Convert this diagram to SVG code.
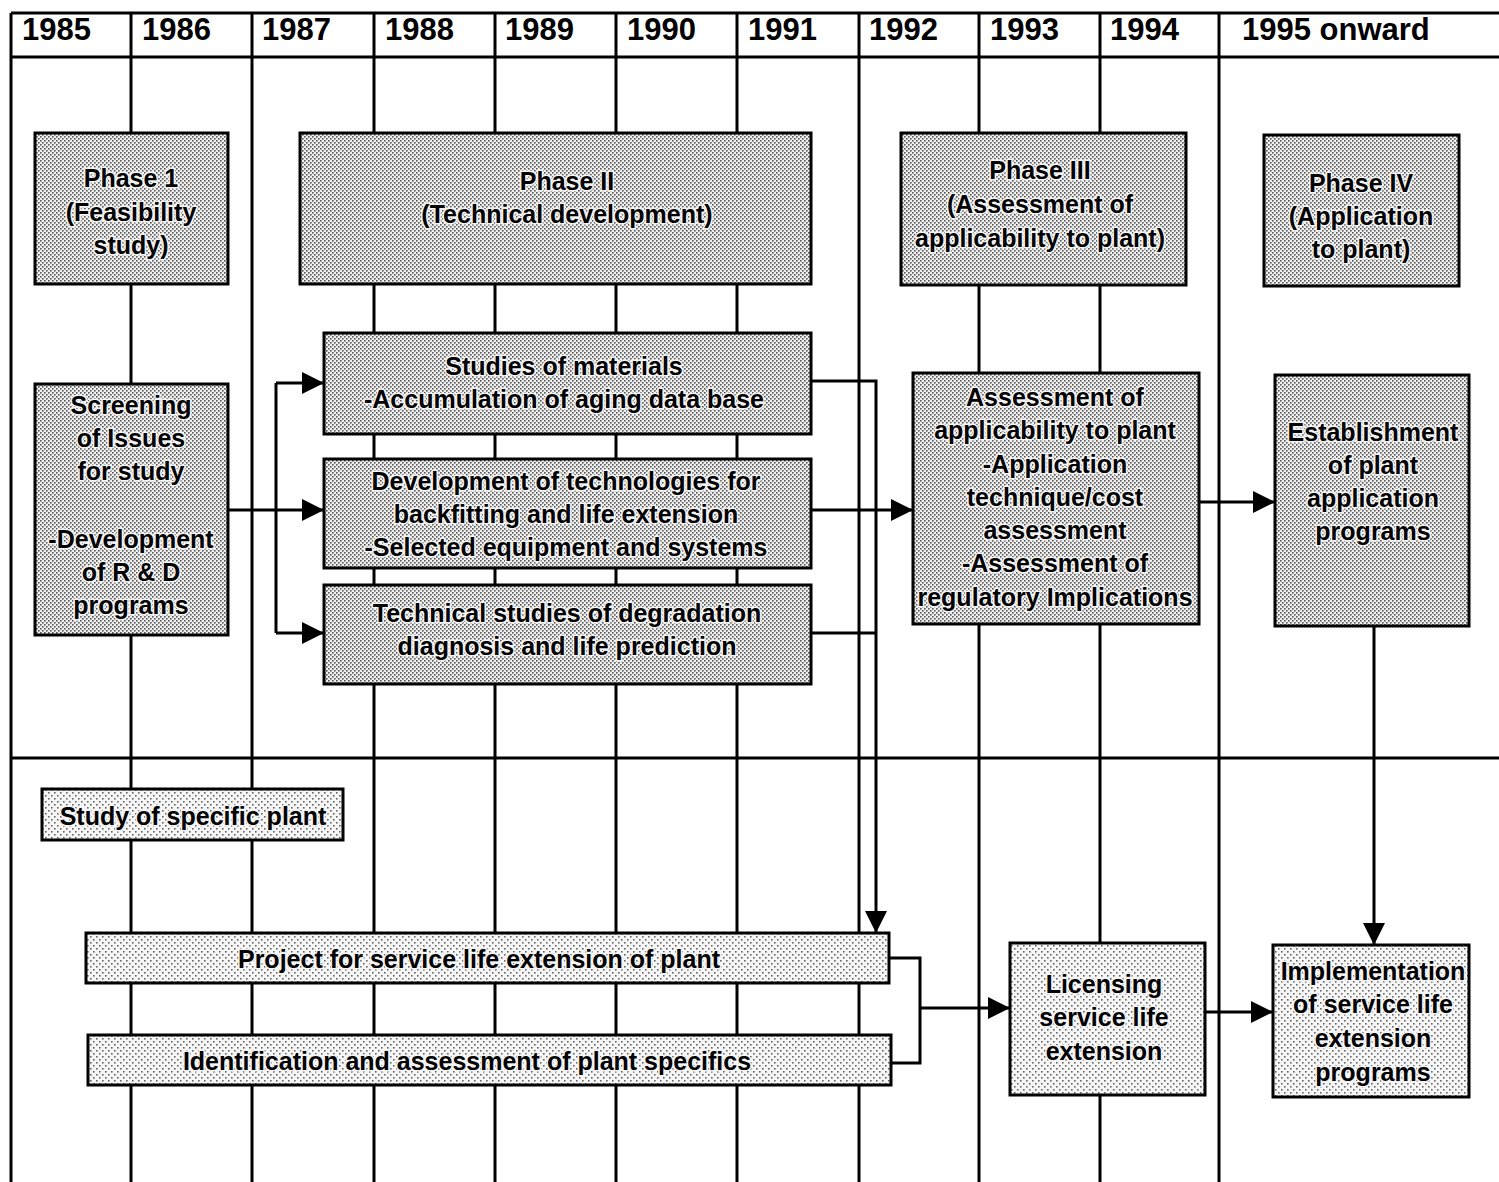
<svg xmlns="http://www.w3.org/2000/svg" width="1499" height="1182" viewBox="0 0 1499 1182">
<style>
.grid{stroke:#000;stroke-width:3;fill:none}
.box{fill:url(#dots);stroke:#000;stroke-width:3}
.light{fill:url(#dots2)}
.yr{font-family:"Liberation Sans",Arial,sans-serif;font-size:31px;font-weight:bold;fill:#000}
.t{font-family:"Liberation Sans",Arial,sans-serif;font-size:25px;font-weight:bold;fill:#000;text-anchor:middle;stroke:#f4f4f4;stroke-width:3;stroke-linejoin:round;paint-order:stroke}
.c{stroke:#000;stroke-width:3;fill:none}
.a{marker-end:url(#arr)}
</style>
<defs>
<pattern id="dots" width="4" height="4" patternUnits="userSpaceOnUse">
<rect width="4" height="4" fill="#f0f0f0"/>
<rect x="0" y="0" width="1.6" height="1.6" fill="#555"/>
<rect x="2" y="2" width="1.6" height="1.6" fill="#555"/>
</pattern>
<pattern id="dots2" width="6" height="6" patternUnits="userSpaceOnUse">
<rect width="6" height="6" fill="#f6f6f6"/>
<rect x="0" y="0" width="1.6" height="1.6" fill="#666"/>
<rect x="3" y="3" width="1.6" height="1.6" fill="#666"/>
</pattern>
<marker id="arr" markerUnits="userSpaceOnUse" markerWidth="24" markerHeight="24" refX="22" refY="11" orient="auto">
<path d="M0,0 L22,11 L0,22 Z" fill="#000"/>
</marker>
</defs>
<rect width="1499" height="1182" fill="#fff"/>
<g id="grid">
<line class="grid" x1="11" y1="13" x2="1499" y2="13"/>
<line class="grid" x1="11" y1="57" x2="1499" y2="57"/>
<line class="grid" x1="11" y1="758" x2="1499" y2="758"/>
<line class="grid" x1="11" y1="13" x2="11" y2="1182"/>
<line class="grid" x1="131" y1="13" x2="131" y2="1182"/>
<line class="grid" x1="252" y1="13" x2="252" y2="1182"/>
<line class="grid" x1="374" y1="13" x2="374" y2="1182"/>
<line class="grid" x1="495" y1="13" x2="495" y2="1182"/>
<line class="grid" x1="616" y1="13" x2="616" y2="1182"/>
<line class="grid" x1="737" y1="13" x2="737" y2="1182"/>
<line class="grid" x1="859" y1="13" x2="859" y2="1182"/>
<line class="grid" x1="979" y1="13" x2="979" y2="1182"/>
<line class="grid" x1="1100" y1="13" x2="1100" y2="1182"/>
<line class="grid" x1="1219" y1="13" x2="1219" y2="1182"/>
<text class="yr" x="22" y="40">1985</text>
<text class="yr" x="142" y="40">1986</text>
<text class="yr" x="262" y="40">1987</text>
<text class="yr" x="385" y="40">1988</text>
<text class="yr" x="505" y="40">1989</text>
<text class="yr" x="627" y="40">1990</text>
<text class="yr" x="748" y="40">1991</text>
<text class="yr" x="869" y="40">1992</text>
<text class="yr" x="990" y="40">1993</text>
<text class="yr" x="1110" y="40">1994</text>
<text class="yr" x="1242" y="40">1995 onward</text>
</g>
<g id="connectors">
<line class="c a" x1="228" y1="510" x2="324" y2="510"/>
<path class="c" d="M276,383 L276,633"/>
<line class="c a" x1="276" y1="383" x2="324" y2="383"/>
<line class="c a" x1="276" y1="633" x2="324" y2="633"/>
<path class="c a" d="M811,381 L876,381 L876,933"/>
<line class="c" x1="811" y1="633" x2="876" y2="633"/>
<line class="c a" x1="811" y1="510" x2="913" y2="510"/>
<line class="c a" x1="1199" y1="502" x2="1275" y2="502"/>
<line class="c a" x1="1374" y1="626" x2="1374" y2="945"/>
<path class="c" d="M889,958 L920,958 L920,1063 L891,1063"/>
<line class="c a" x1="920" y1="1008" x2="1010" y2="1008"/>
<line class="c a" x1="1205" y1="1012" x2="1273" y2="1012"/>
</g>
<g id="phase1">
<rect class="box" x="35" y="133" width="193" height="151"/>
<text class="t" x="131" y="187">Phase 1</text>
<text class="t" x="131" y="221">(Feasibility</text>
<text class="t" x="131" y="254">study)</text>
</g>
<g id="phase2">
<rect class="box" x="300" y="133" width="511" height="151"/>
<text class="t" x="567" y="190">Phase II</text>
<text class="t" x="567" y="223">(Technical development)</text>
</g>
<g id="phase3">
<rect class="box" x="901" y="133" width="285" height="152"/>
<text class="t" x="1040" y="179">Phase III</text>
<text class="t" x="1040" y="213">(Assessment of</text>
<text class="t" x="1040" y="247">applicability to plant)</text>
</g>
<g id="phase4">
<rect class="box" x="1264" y="135" width="195" height="151"/>
<text class="t" x="1361" y="192">Phase IV</text>
<text class="t" x="1361" y="225">(Application</text>
<text class="t" x="1361" y="258">to plant)</text>
</g>
<g id="screening">
<rect class="box" x="35" y="384" width="193" height="251"/>
<text class="t" x="131" y="414">Screening</text>
<text class="t" x="131" y="447">of Issues</text>
<text class="t" x="131" y="480">for study</text>
<text class="t" x="131" y="548">-Development</text>
<text class="t" x="131" y="581">of R &amp; D</text>
<text class="t" x="131" y="614">programs</text>
</g>
<g id="materials">
<rect class="box" x="324" y="333" width="487" height="101"/>
<text class="t" x="564" y="375">Studies of materials</text>
<text class="t" x="564" y="408">-Accumulation of aging data base</text>
</g>
<g id="technologies">
<rect class="box" x="324" y="459" width="487" height="109"/>
<text class="t" x="566" y="490">Development of technologies for</text>
<text class="t" x="566" y="523">backfitting and life extension</text>
<text class="t" x="566" y="556">-Selected equipment and systems</text>
</g>
<g id="degradation">
<rect class="box" x="324" y="585" width="487" height="99"/>
<text class="t" x="567" y="622">Technical studies of degradation</text>
<text class="t" x="567" y="655">diagnosis and life prediction</text>
</g>
<g id="assessment">
<rect class="box" x="913" y="373" width="286" height="251"/>
<text class="t" x="1055" y="406">Assessment of</text>
<text class="t" x="1055" y="439">applicability to plant</text>
<text class="t" x="1055" y="473">-Application</text>
<text class="t" x="1055" y="506">technique/cost</text>
<text class="t" x="1055" y="539">assessment</text>
<text class="t" x="1055" y="572">-Assessment of</text>
<text class="t" x="1055" y="606">regulatory  Implications</text>
</g>
<g id="establishment">
<rect class="box" x="1275" y="375" width="194" height="251"/>
<text class="t" x="1373" y="441">Establishment</text>
<text class="t" x="1373" y="474">of plant</text>
<text class="t" x="1373" y="507">application</text>
<text class="t" x="1373" y="540">programs</text>
</g>
<g id="specific">
<rect class="box light" x="42" y="789" width="301" height="51"/>
<text class="t" x="193" y="825">Study of specific plant</text>
</g>
<g id="project">
<rect class="box light" x="86" y="933" width="803" height="50"/>
<text class="t" x="479" y="968">Project for service life extension of plant</text>
</g>
<g id="identification">
<rect class="box light" x="88" y="1035" width="803" height="50"/>
<text class="t" x="467" y="1070">Identification and assessment of plant specifics</text>
</g>
<g id="licensing">
<rect class="box light" x="1010" y="943" width="195" height="152"/>
<text class="t" x="1104" y="993">Licensing</text>
<text class="t" x="1104" y="1026">service life</text>
<text class="t" x="1104" y="1060">extension</text>
</g>
<g id="implementation">
<rect class="box light" x="1273" y="945" width="196" height="152"/>
<text class="t" x="1373" y="980">Implementation</text>
<text class="t" x="1373" y="1013">of service life</text>
<text class="t" x="1373" y="1047">extension</text>
<text class="t" x="1373" y="1081">programs</text>
</g>
</svg>
